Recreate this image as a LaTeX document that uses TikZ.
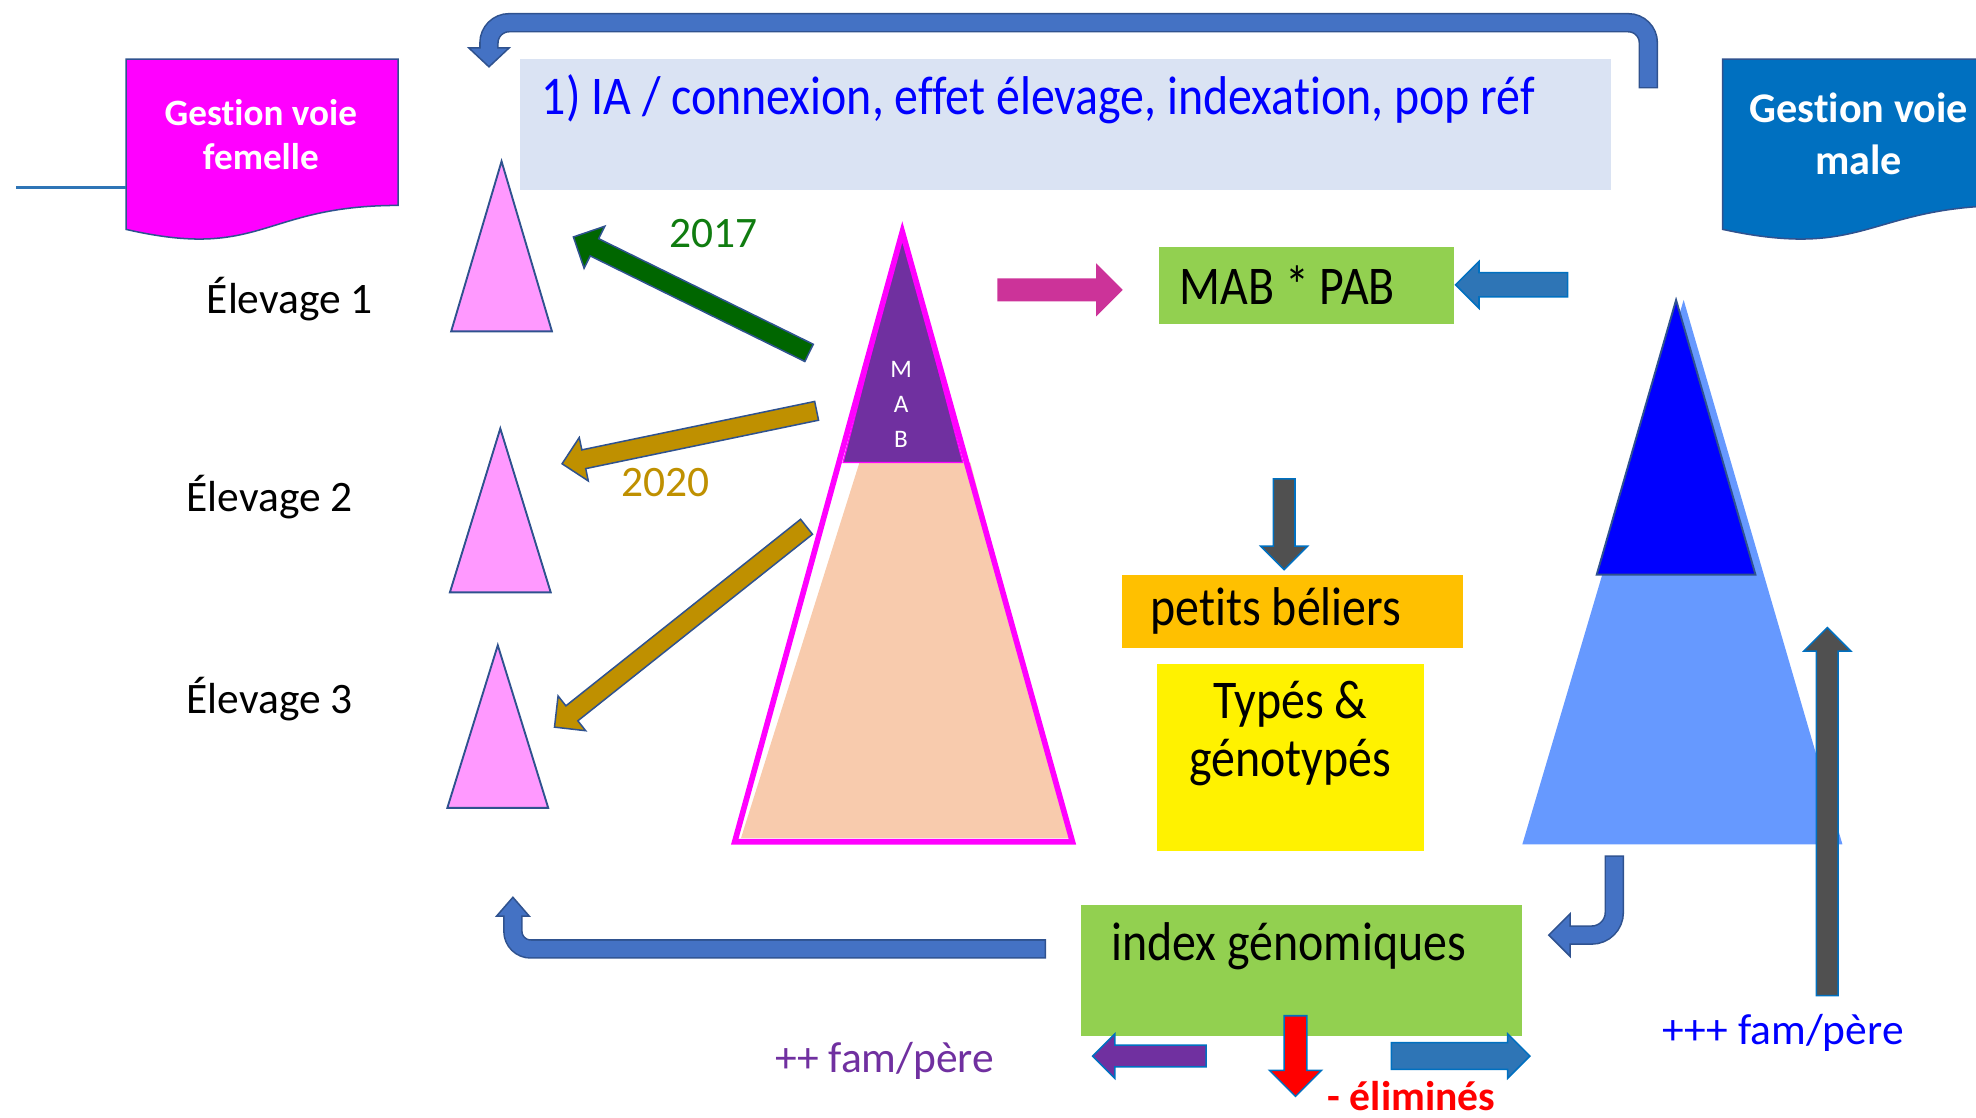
\documentclass[tikz,border=0pt]{standalone}
\usepackage{fontspec}
\usepackage{graphicx}
\setmainfont{Carlito}[Ligatures=NoCommon,Contextuals=NoAlternate]
\usetikzlibrary{calc,positioning,shapes.arrows}

\definecolor{bord}{HTML}{2F528F}
\definecolor{steel}{HTML}{4472C4}
\definecolor{azure}{HTML}{0070C0}
\definecolor{ocean}{HTML}{2E75B6}
\definecolor{titlebg}{HTML}{DAE3F3}
\definecolor{fuchsia}{HTML}{FF00FF}
\definecolor{pinklt}{HTML}{FF99FF}
\definecolor{mabpurple}{HTML}{7030A0}
\definecolor{peach}{HTML}{F8CBAD}
\definecolor{forest}{HTML}{006600}
\definecolor{yeargreen}{HTML}{107C10}
\definecolor{gold}{HTML}{BF9000}
\definecolor{pinkarr}{HTML}{CC3399}
\definecolor{greenbox}{HTML}{92D050}
\definecolor{orangebox}{HTML}{FFC000}
\definecolor{skyblue}{HTML}{6699FF}
\definecolor{maleblue}{HTML}{0070C0}
\definecolor{slate}{HTML}{505050}

\newcommand{\tall}[1]{\scalebox{1}[1.14]{#1}}
\newcommand{\blockarrow}[3][]{%
  \path let \p1=($(#3)-(#2)$), \n1={atan2(\y1,\x1)}, \n2={veclen(\x1,\y1)} in
    node[blockarr,#1,minimum height=\n2,rotate=\n1,anchor=tail] at (#2) {};}

\begin{document}
\begin{tikzpicture}[x=1pt,y=-1pt,
  every node/.style={inner sep=0pt, outer sep=0pt},
  lab/.style={anchor=base, font=\fontsize{34.5}{40}\selectfont},
  boxtxt/.style={font=\fontsize{38}{46}\selectfont},
  doc/.style={draw=bord, line width=1.2pt},
  smalltri/.style={fill=pinklt, draw=bord, line width=1.5pt},
  blockarr/.style={single arrow, draw, line width=1.2pt, inner xsep=0pt,
    single arrow head indent=0pt},
  greenarr/.style={fill=forest, draw=bord, inner ysep=7pt, minimum width=36pt,
    single arrow head extend=11pt},
  goldarr/.style={fill=gold, draw=bord, inner ysep=7pt, minimum width=34pt,
    single arrow head extend=10pt},
  pinkarrow/.style={fill=pinkarr, draw=pinkarr, inner ysep=8pt, minimum width=38pt,
    single arrow head extend=11pt},
  bluearr/.style={fill=ocean, draw=azure, inner ysep=9pt, minimum width=36pt,
    single arrow head extend=9pt},
  grayarr/.style={fill=slate, draw=azure, inner ysep=8pt, minimum width=36pt,
    single arrow head extend=10pt},
  bentout/.style={draw=bord, line width=15.5pt},
  bentin/.style={draw=steel, line width=13pt},
  benthead/.style={fill=steel, draw=bord, line width=1.2pt}]

	\clip (0,0) rectangle (1568,887);

	% top box and the two documents
	\node[fill=titlebg, text=blue, minimum width=865pt, text width=831pt, inner xsep=17pt,
	  text height=44pt, text depth=60pt, align=flush left, font=\fontsize{38}{44}\selectfont]
	  (titre) at (845.5,99) {\tall{1) IA / connexion, effet élevage, indexation, pop réf}};

	\draw[doc, fill=fuchsia] (100,47) -- (316,47) -- (316,163)
	  .. controls (208,163) and (208,207) .. (100,182) -- cycle;
	\node[text=white, align=center, font=\bfseries\fontsize{29.5}{35}\selectfont] (fem) at (207,107) {Gestion voie\\femelle};
	\coordinate (fl) at (13,149);
	\coordinate (fr) at (100,149);
	\draw[ocean, line width=2.5pt] (fl) -- (fr);

	\draw[doc, fill=maleblue] (1367,47) -- (1597,47) -- (1597,163)
	  .. controls (1482,163) and (1482,207) .. (1367,182) -- cycle;
	\node[text=white, align=center, font=\bfseries\fontsize{33.5}{41}\selectfont] (male) at (1475,106) {Gestion voie\\male};

	% elevages
	\node[lab] (e1) at (230,249) {Élevage 1};
	\node[lab] (e2) at (214,406) {Élevage 2};
	\node[lab] (e3) at (214,566) {Élevage 3};

	\filldraw[smalltri] (398,128) -- (438,263) -- (358,263) -- cycle;
	\filldraw[smalltri] (397,340) -- (437,470) -- (357,470) -- cycle;
	\filldraw[smalltri] (395,512) -- (435,641) -- (355,641) -- cycle;

	% big triangle
	\fill[peach] (682,367) -- (770,367) -- (848,665) -- (588,665) -- cycle;
	\filldraw[fill=mabpurple, draw=fuchsia, line width=1pt] (716,184) -- (764,367) -- (669,367) -- cycle;
	\draw[fuchsia, line width=4.5pt] (716,184) -- (851,668) -- (583,668) -- cycle;
	\node[text=white, align=center, font=\fontsize{20}{28}\selectfont] (mab) at (715,321) {M\\A\\B};

	% male tree
	\fill[skyblue] (1336,238) -- (1462,670) -- (1208,670) -- cycle;
	\filldraw[fill=blue, draw=bord, line width=1.5pt] (1330,238) -- (1393,456) -- (1267,456) -- cycle;

	% boxes
	\node[fill=greenbox, boxtxt, minimum width=234pt, minimum height=61pt, text width=202pt,
	  inner xsep=16pt, align=flush left] (mabpab) at (1037,226.5) {\tall{MAB * PAB}};
	\node[fill=orangebox, boxtxt, minimum width=271pt, minimum height=58pt, text width=225pt,
	  inner xsep=23pt, align=flush left] (petits) at (1025.5,485) {\tall{petits béliers}};
	\node[fill=yellow, boxtxt, minimum width=212pt, minimum height=148pt,
	  text width=212pt, align=flush center] (types) at (1024,601) {\tall{Typés \&}\\\tall{génotypés}\\\mbox{}};
	\node[fill=greenbox, boxtxt, text width=302pt, inner xsep=24pt, text height=44pt,
	  text depth=60pt, align=flush left] (index) at (1033,770) {\tall{index génomiques}};

	% labels
	\node[lab, text=yeargreen] (y17) at (566,196) {2017};
	\node[lab, text=gold] (y20) at (528,394) {2020};
	\node[lab, text=blue] (pere3) at (1415,829) {+++ fam/père};
	\node[lab, text=mabpurple] (pere2) at (702,851) {++ fam/père};
	\node[lab, text=red, font=\bfseries\fontsize{33}{38}\selectfont] (elim) at (1120,881) {- éliminés};

	% straight arrows
	\coordinate (g1) at (642,280);
	\coordinate (g2) at (455,188);
	\coordinate (o1) at (648,326);
	\coordinate (o2) at (446,368);
	\coordinate (o3) at (640,418);
	\coordinate (o4) at (440,577);
	\coordinate (p1) at (792,230);
	\coordinate (p2) at (890,230);
	\coordinate (b1) at (1244,226);
	\coordinate (b2) at (1155,226);
	\coordinate (d1) at (1019,380);
	\coordinate (d2) at (1019,452);
	\coordinate (u1) at (1450,790);
	\coordinate (u2) at (1450,498);
	\coordinate (v1) at (957,838);
	\coordinate (v2) at (867,838);
	\coordinate (r1) at (1028,806);
	\coordinate (r2) at (1028,870);
	\coordinate (w1) at (1104,838);
	\coordinate (w2) at (1214,838);

	\blockarrow[greenarr, name=a17]{g1}{g2}
	\blockarrow[goldarr, name=a20]{o1}{o2}
	\blockarrow[goldarr, name=a20b]{o3}{o4}
	\blockarrow[pinkarrow, name=apink]{p1}{p2}
	\blockarrow[bluearr, name=apab]{b1}{b2}
	\blockarrow[grayarr, name=adown]{d1}{d2}
	\blockarrow[grayarr, name=aup]{u1}{u2}
	\blockarrow[fill=mabpurple, draw=azure, inner ysep=8pt, minimum width=34pt,
	  single arrow head extend=9pt, name=aleft]{v1}{v2}
	\blockarrow[fill=red, draw=azure, inner ysep=8.5pt, minimum width=40pt,
	  single arrow head extend=11.5pt, name=ared]{r1}{r2}
	\blockarrow[fill=ocean, draw=azure, inner ysep=10pt, minimum width=34pt,
	  single arrow head extend=7pt, name=aright]{w1}{w2}

	% bent arrows
	\coordinate (ts) at (1308,69);
	\coordinate (tk) at (388,18);
	\coordinate (th) at (388,38);
	\coordinate (tt) at (388,53);
	\draw[bentout, rounded corners=16pt, shorten <=-1.2pt] (ts) |- (tk) -- (th);
	\filldraw[benthead] (tt) -- (372,38) -- (404,38) -- cycle;
	\draw[bentin, rounded corners=16pt, shorten >=-2pt] (ts) |- (tk) -- (th);

	\coordinate (ls) at (829,753);
	\coordinate (lk) at (407,753);
	\coordinate (lh) at (407,727);
	\coordinate (lt) at (407,712);
	\draw[bentout, rounded corners=14pt, shorten <=-1.2pt] (ls) -- (lk) -- (lh);
	\filldraw[benthead] (lt) -- (394,727) -- (420,727) -- cycle;
	\draw[bentin, rounded corners=14pt, shorten >=-2pt] (ls) -- (lk) -- (lh);

	\coordinate (js) at (1281,680);
	\coordinate (jk) at (1281,742);
	\coordinate (jh) at (1246,742);
	\coordinate (jt) at (1229,742);
	\draw[bentout, rounded corners=18pt, shorten <=-1.2pt] (js) -- (jk) -- (jh);
	\filldraw[benthead] (jt) -- (1246,725) -- (1246,759) -- cycle;
	\draw[bentin, rounded corners=18pt, shorten >=-2pt] (js) -- (jk) -- (jh);

\end{tikzpicture}
\end{document}
